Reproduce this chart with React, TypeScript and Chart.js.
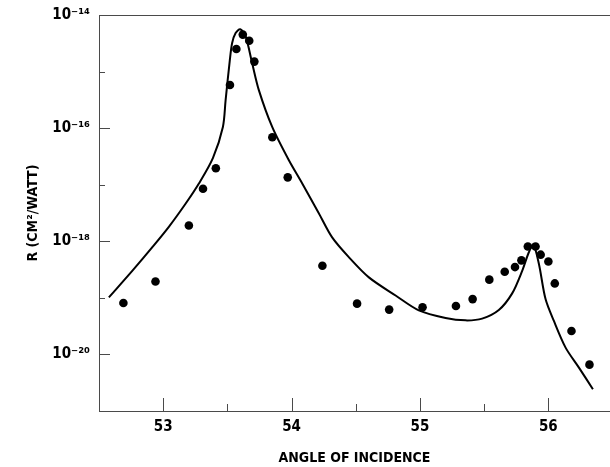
import React, { useEffect, useRef } from "react";
import { Chart, registerables } from "chart.js";

Chart.register(...registerables);

// Measured points (angle of incidence, R in cm^2/W)
const dotAngles = [52.69, 52.94, 53.2, 53.31, 53.41, 53.52, 53.57, 53.62, 53.67, 53.71, 53.85, 53.97, 54.24, 54.51, 54.76, 55.02, 55.28, 55.41, 55.54, 55.66, 55.74, 55.79, 55.84, 55.9, 55.94, 56.0, 56.05, 56.18, 56.32];
const dotR = [8.1e-20, 1.95e-19, 1.9e-18, 8.5e-18, 1.95e-17, 5.8e-16, 2.5e-15, 4.5e-15, 3.5e-15, 1.5e-15, 6.9e-17, 1.35e-17, 3.7e-19, 7.9e-20, 6.2e-20, 6.8e-20, 7.2e-20, 9.5e-20, 2.1e-19, 2.9e-19, 3.5e-19, 4.6e-19, 8.1e-19, 8.1e-19, 5.8e-19, 4.4e-19, 1.8e-19, 2.6e-20, 6.6e-21];

// Theoretical curve
const curveAngles = [52.577, 52.759, 52.914, 53.044, 53.174, 53.278, 53.387, 53.465, 53.486, 53.519, 53.537, 53.564, 53.6, 53.642, 53.693, 53.745, 53.849, 53.979, 54.083, 54.213, 54.316, 54.447, 54.602, 54.81, 54.991, 55.199, 55.355, 55.484, 55.614, 55.718, 55.796, 55.848, 55.883, 55.926, 55.978, 56.043, 56.134, 56.238, 56.347];
const curveR = [1.02e-19, 3.0e-19, 7.8e-19, 1.8e-18, 4.6e-18, 1.05e-17, 2.95e-17, 1.05e-16, 3.1e-16, 1.6e-15, 3.2e-15, 4.8e-15, 5.6e-15, 4.2e-15, 1.4e-15, 4.7e-16, 1.05e-16, 2.7e-17, 1.05e-17, 3.1e-18, 1.17e-18, 5.2e-19, 2.3e-19, 1.1e-19, 6.0e-20, 4.4e-20, 4.0e-20, 4.3e-20, 6.1e-20, 1.2e-19, 3.0e-19, 6.4e-19, 8.7e-19, 4.0e-19, 9.5e-20, 3.9e-20, 1.32e-20, 5.85e-21, 2.43e-21];

// Axis ticks
const xMajorTicks = [53, 54, 55, 56];
const xMinorTicks = [53.5, 54.5, 55.5];
const yDecadeExponents = [-14, -15, -16, -17, -18, -19, -20, -21];
const yLabelMap: Record<number, string> = {
  [-14]: "10\u207B\u00B9\u2074",
  [-16]: "10\u207B\u00B9\u2076",
  [-18]: "10\u207B\u00B9\u2078",
  [-20]: "10\u207B\u00B2\u2070",
};

const xTitle = "ANGLE OF INCIDENCE";
const yTitle = "R (CM\u00B2/WATT)";

const FONT = "'Liberation Sans Narrow', 'DejaVu Sans Condensed', 'Arial Narrow', sans-serif";
const AXIS_COLOR = "#4a4a4a";

const tickPlugin = {
  id: "inwardTicks",
  afterDraw(chart: any) {
    const { ctx, chartArea, scales } = chart;
    const xs = scales.x;
    const ys = scales.y;
    ctx.save();
    ctx.strokeStyle = AXIS_COLOR;
    ctx.lineWidth = 1;
    ctx.beginPath();
    // top frame line
    ctx.moveTo(chartArea.left, chartArea.top + 0.5);
    ctx.lineTo(chartArea.right, chartArea.top + 0.5);
    // x ticks pointing up
    xMajorTicks.forEach((v) => {
      const px = Math.round(xs.getPixelForValue(v)) + 0.5;
      ctx.moveTo(px, chartArea.bottom);
      ctx.lineTo(px, chartArea.bottom - 13);
    });
    xMinorTicks.forEach((v) => {
      const px = Math.round(xs.getPixelForValue(v)) + 0.5;
      ctx.moveTo(px, chartArea.bottom);
      ctx.lineTo(px, chartArea.bottom - 7);
    });
    // y ticks pointing right
    yDecadeExponents.forEach((e) => {
      const py = Math.round(ys.getPixelForValue(Math.pow(10, e))) + 0.5;
      const len = e % 2 === 0 ? 11 : 6;
      ctx.moveTo(chartArea.left, py);
      ctx.lineTo(chartArea.left + len, py);
    });
    ctx.stroke();
    ctx.restore();
  },
};

export default function App() {
  const canvasRef = useRef<HTMLCanvasElement | null>(null);

  useEffect(() => {
    if (!canvasRef.current) return;
    const chart = new Chart(canvasRef.current, {
      type: "scatter",
      data: {
        datasets: [
          {
            label: "Theory",
            data: curveAngles.map((x, i) => ({ x, y: curveR[i] })),
            showLine: true,
            borderColor: "#000",
            borderWidth: 2,
            pointRadius: 0,
            tension: 0.3,
          },
          {
            label: "Experiment",
            data: dotAngles.map((x, i) => ({ x, y: dotR[i] })),
            showLine: false,
            backgroundColor: "#000",
            borderColor: "#000",
            pointRadius: 4.3,
            pointBorderWidth: 0,
          },
        ],
      },
      options: {
        responsive: false,
        animation: false,
        layout: { autoPadding: false, padding: { top: 15, right: 0, left: 0, bottom: 0 } },
        plugins: {
          legend: { display: false },
          tooltip: { enabled: false },
        },
        scales: {
          x: {
            type: "linear",
            min: 52.5,
            max: 56.48,
            grid: { display: false, drawTicks: false },
            border: { display: true, color: AXIS_COLOR, width: 1 },
            afterBuildTicks: (scale: any) => {
              scale.ticks = xMajorTicks.map((v) => ({ value: v }));
            },
            afterFit: (scale: any) => {
              scale.height = 56;
              scale.paddingLeft = 0;
              scale.paddingRight = 0;
            },
            ticks: {
              padding: 7,
              color: "#000",
              font: { family: FONT, size: 15, weight: "bold" },
              callback: (v: any) => String(v),
            },
            title: {
              display: true,
              text: xTitle,
              color: "#000",
              padding: { top: 0, bottom: 0 },
              font: { family: FONT, size: 14, weight: "bold" },
            },
          },
          y: {
            type: "logarithmic",
            min: 1e-21,
            max: 1e-14,
            grid: { display: false, drawTicks: false },
            border: { display: true, color: AXIS_COLOR, width: 1 },
            afterBuildTicks: (scale: any) => {
              scale.ticks = yDecadeExponents.map((e) => ({ value: Math.pow(10, e) }));
            },
            afterFit: (scale: any) => {
              scale.width = 99;
              scale.paddingTop = 0;
              scale.paddingBottom = 0;
            },
            ticks: {
              padding: 9,
              color: "#000",
              autoSkip: false,
              font: { family: FONT, size: 15, weight: "bold" },
              callback: (v: any) => {
                const e = Math.round(Math.log10(Number(v)));
                return yLabelMap[e] ?? "";
              },
            },
            title: {
              display: true,
              text: yTitle,
              color: "#000",
              padding: { top: 25, bottom: 0 },
              font: { family: FONT, size: 14, weight: "bold" },
            },
          },
        },
      },
      plugins: [tickPlugin],
    } as any);
    return () => chart.destroy();
  }, []);

  return (
    <div style={{ position: "fixed", left: 0, top: 0, width: 610, height: 467, background: "#fff" }}>
      <canvas ref={canvasRef} width={610} height={467} style={{ display: "block" }} />
    </div>
  );
}
